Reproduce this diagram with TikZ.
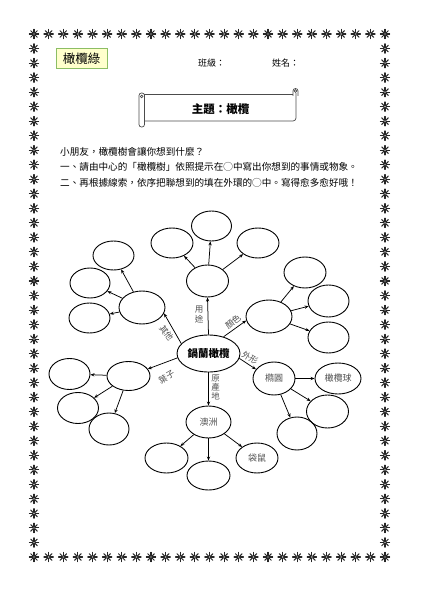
\documentclass[tikz,border=0pt]{standalone}
\usepackage{fontspec}
\newfontfamily\cjk{Noto Sans CJK TC}
\usetikzlibrary{shapes.geometric,arrows.meta}
\definecolor{boxfill}{RGB}{255,255,204}
\definecolor{boxline}{RGB}{140,190,100}
\definecolor{lab}{RGB}{80,80,80}
\begin{document}
\begin{tikzpicture}[x=1pt,y=-1pt,
  bub/.style={ellipse,draw,line width=0.9pt,inner sep=0pt,
    font=\cjk\fontsize{9}{9}\selectfont,text=lab},
  arr/.style={-{Stealth[length=4pt,width=3.2pt]},line width=0.75pt},
  lbl/.style={font=\cjk\fontsize{8.5}{8.5}\selectfont,text=lab,inner sep=0pt},
  starmark/.pic={\foreach \a in {0,45,90,135}{\draw[line width=1.05pt,line cap=round,black!85] (\a:4.7pt) -- (\a+180:4.7pt);}
                 \fill[white] (0,0) circle (0.7pt);}
]
\useasboundingbox (0,0) rectangle (420,593);
% star border
\foreach \i in {0,...,24}{
  \pic at ({34+\i*14.625},34) {starmark};
  \pic at ({34+\i*14.625},557) {starmark};
}
\foreach \j in {1,...,35}{
  \pic at (34,{34+\j*14.528}) {starmark};
  \pic at (385,{34+\j*14.528}) {starmark};
}
% header
\node[draw=boxline,fill=boxfill,line width=1pt,minimum width=51pt,minimum height=20pt,inner sep=0pt,
  font=\cjk\fontsize{12.5}{12.5}\selectfont] (title) at (81.5,59) {橄欖綠};
\node[font=\cjk\fontsize{9}{9}\selectfont,anchor=west,inner sep=0pt] (cls) at (198,63) {班級：};
\node[font=\cjk\fontsize{9}{9}\selectfont,anchor=west,inner sep=0pt] (nm) at (272,63) {姓名：};
% scroll
\begin{scope}[draw=black!70,line width=0.7pt]
  \draw (144,94) -- (293,94);
  \draw (296,93) -- (296,118) arc[start angle=0,end angle=90,radius=3] -- (144,121);
  \draw[rounded corners=2.5pt] (293,96) -- (293,88.5) -- (298,88.5) -- (298,96);
  \draw (295.5,91) circle (1.3);
  \draw[rounded corners=2.5pt] (139,93) rectangle (144.5,127);
  \draw (141.7,96.5) circle (1.3);
\end{scope}
\node[font=\cjk\bfseries\fontsize{11.5}{11.5}\selectfont,inner sep=0pt] (theme) at (220.5,109) {主題：橄欖};
% instructions
\begin{scope}[every node/.style={font=\cjk\fontsize{9.6}{9.6}\selectfont,anchor=west,inner sep=0pt}]
  \node (l1) at (60,152) {小朋友，橄欖樹會讓你想到什麼？};
  \node (l2) at (60,167.3) {一、請由中心的「橄欖樹」依照提示在◯中寫出你想到的事情或物象。};
  \node (l3) at (60,182.6) {二、再根據線索，依序把聯想到的填在外環的◯中。寫得愈多愈好哦！};
\end{scope}
% center
\node[bub,minimum width=63pt,minimum height=37pt,text=black,
  font=\cjk\bfseries\fontsize{10.5}{10.5}\selectfont] (C) at (208.5,353.5) {鍋蘭橄欖};
% 用途 branch
\node[bub,minimum width=42pt,minimum height=32pt] (yt) at (207.5,281) {};
\node[bub,minimum width=40pt,minimum height=30pt] (yt1) at (211.5,226) {};
\node[bub,minimum width=42pt,minimum height=30pt] (yt2) at (172,243) {};
\node[bub,minimum width=42pt,minimum height=30pt] (yt3) at (258,243) {};
% 顏色 branch
\node[bub,minimum width=46pt,minimum height=33pt] (ys) at (269,316.5) {};
\node[bub,minimum width=42pt,minimum height=31pt] (ys1) at (305,272.5) {};
\node[bub,minimum width=41pt,minimum height=32pt] (ys2) at (328.5,301) {};
\node[bub,minimum width=41pt,minimum height=31pt] (ys3) at (328.5,337.5) {};
% 外形 branch
\node[bub,minimum width=42pt,minimum height=33pt] (wx) at (274,378.5) {橢圓};
\node[bub,minimum width=46pt,minimum height=31pt] (wx1) at (338,378.5) {橄欖球};
\node[bub,minimum width=42pt,minimum height=33pt] (wx2) at (327.5,411.5) {};
\node[bub,minimum width=40pt,minimum height=33pt] (wx3) at (297,433.5) {};
% 原產地 branch
\node[bub,minimum width=45pt,minimum height=32pt] (yc) at (208.5,422) {澳洲};
\node[bub,minimum width=43pt,minimum height=30pt] (yc1) at (166.5,458) {};
\node[bub,minimum width=43pt,minimum height=29pt] (yc2) at (208.5,475.5) {};
\node[bub,minimum width=42pt,minimum height=30pt] (yc3) at (257,458) {袋鼠};
% 葉子 branch
\node[bub,minimum width=43pt,minimum height=29pt] (yz) at (128.5,376) {};
\node[bub,minimum width=41pt,minimum height=31pt] (yz1) at (69.5,374) {};
\node[bub,minimum width=41pt,minimum height=31pt] (yz2) at (78,408) {};
\node[bub,minimum width=40pt,minimum height=32pt] (yz3) at (109,429) {};
% 其他 branch
\node[bub,minimum width=46pt,minimum height=33pt] (qt) at (142,307.5) {};
\node[bub,minimum width=41pt,minimum height=29pt] (qt1) at (113.5,255.5) {};
\node[bub,minimum width=40pt,minimum height=30pt] (qt2) at (90,283) {};
\node[bub,minimum width=41pt,minimum height=30pt] (qt3) at (89.5,318) {};
% connectors from center
\draw[arr] (C.north) -- (yt.south);
\draw[arr] (C.48) -- (ys.190);
\draw[arr] (C.-9) -- (wx.153);
\draw[arr] (C.south) -- (yc.north);
\draw[arr] (C.-172) -- (yz.20);
\draw[arr] (C.160) -- (qt.-15);
% second level
\draw[arr] (yt) -- (yt1);
\draw[arr] (yt) -- (yt2);
\draw[arr] (yt) -- (yt3);
\draw[arr] (ys) -- (ys1);
\draw[arr] (ys) -- (ys2);
\draw[arr] (ys) -- (ys3);
\draw[arr] (wx) -- (wx1);
\draw[arr] (wx) -- (wx2);
\draw[arr] (wx) -- (wx3);
\draw[arr] (yc) -- (yc1);
\draw[arr] (yc) -- (yc2);
\draw[arr] (yc) -- (yc3);
\draw[arr] (yz) -- (yz1);
\draw[arr] (yz) -- (yz2);
\draw[arr] (yz) -- (yz3);
\draw[arr] (qt) -- (qt1);
\draw[arr] (qt) -- (qt2);
\draw[arr] (qt) -- (qt3);
% labels
\node[lbl,align=center] (lyt) at (199,314.5) {用\\[1pt]途};
\node[lbl,rotate=38] (lys) at (233,322) {顏色};
\node[lbl,rotate=-30] (lwx) at (250,357.5) {外形};
\node[lbl,align=center] (lyc) at (215.5,387) {原\\[0.5pt]產\\[0.5pt]地};
\node[lbl,rotate=30] (lyz) at (166.5,377) {葉子};
\node[lbl,rotate=-54] (lqt) at (166.5,333) {其他};
\end{tikzpicture}
\end{document}
